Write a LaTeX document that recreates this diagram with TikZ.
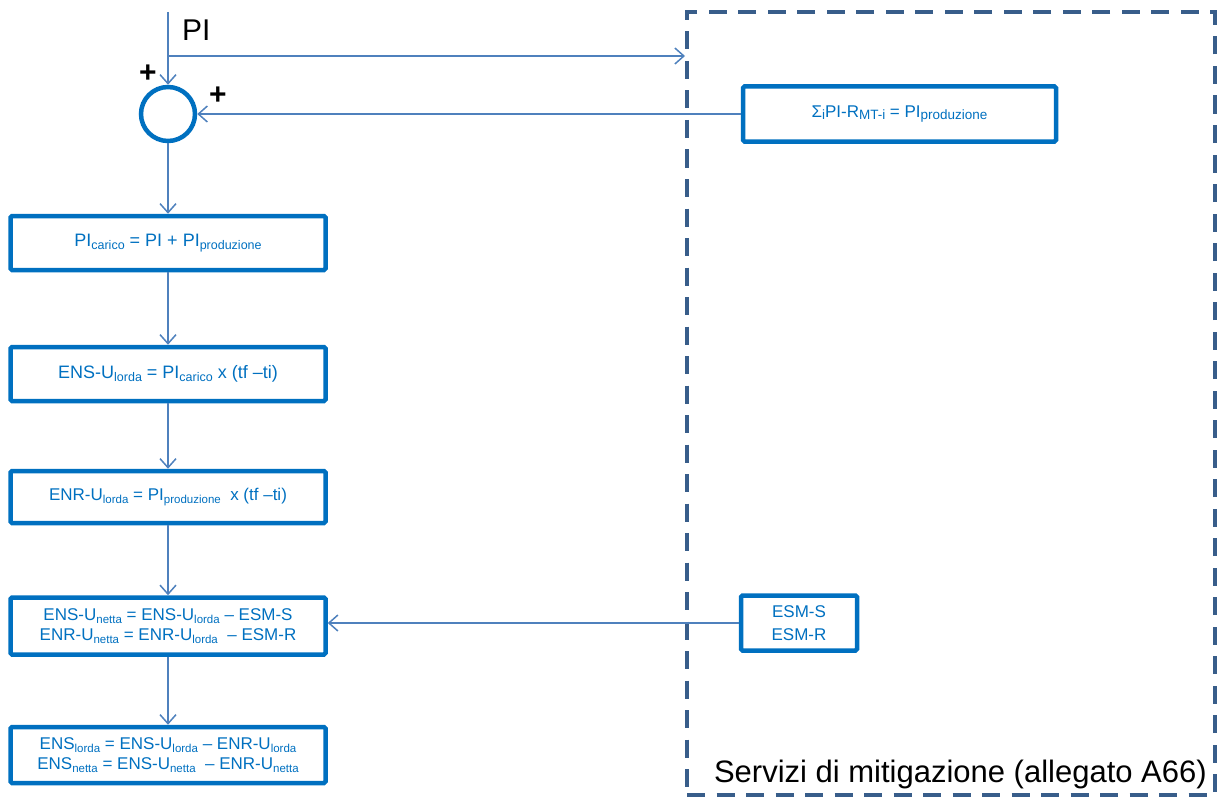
\documentclass[tikz,border=0pt]{standalone}
\usepackage{fontspec}
\setmainfont{Liberation Sans}
\usetikzlibrary{arrows.meta}
\definecolor{boxblue}{RGB}{0,112,192}
\definecolor{lineblue}{RGB}{79,129,189}
\definecolor{dashblue}{RGB}{56,93,138}
\newcommand\lo[1]{\raisebox{-2.5pt}{\fontsize{12.5}{13}\selectfont #1}}
\newcommand\los[1]{\raisebox{-2.3pt}{\fontsize{11.5}{12}\selectfont #1}}
\newcommand\lob[1]{\raisebox{-2.5pt}{\fontsize{13.5}{14}\selectfont #1}}
\begin{document}
\begin{tikzpicture}[x=1pt,y=-1pt,
  calcbox/.style={draw=boxblue, line width=4.5pt, rounded corners=1.5pt, text=boxblue,
    font=\fontsize{18}{21}\selectfont, align=center, inner sep=0pt,
    minimum width=315pt},
  smallfont/.style={font=\fontsize{17}{20}\selectfont},
  wire/.style={draw=lineblue, line width=1.5pt},
  conn/.style={wire, -{Straight Barb[length=9pt,width=16pt]}},
  plus/.style={font=\fontsize{30}{30}\selectfont\bfseries, inner sep=0pt}]
\useasboundingbox (0,0) rectangle (1217,797);

% dashed region
\node[draw=dashblue, line width=4pt, dash pattern=on 18pt off 11.5pt,
      minimum width=528pt, minimum height=783pt, inner sep=0pt] (svc) at (951,403.5) {};
\node[anchor=base east, font=\fontsize{31}{31}\selectfont, inner sep=0pt] (svclabel)
  at (1207,782) {Servizi di mitigazione (allegato A66)};

% summing junction
\node[draw=boxblue, line width=4.5pt, circle, minimum size=54pt, inner sep=0pt] (sum) at (168,114) {};
\node[plus] (plusA) at (148,74) {+};
\node[plus] (plusB) at (218,96) {+};

% input
\coordinate (top) at (168,12);
\coordinate (split) at (168,56);
\node[anchor=west, font=\fontsize{30}{30}\selectfont, inner sep=0pt] (pilabel) at (182,30) {PI};

% boxes left
\node[calcbox, minimum height=54pt] (b1) at (168,243)
  {PI\lo{carico} = PI + PI\lo{produzione}};
\node[calcbox, minimum height=54pt] (b2) at (168,374)
  {ENS-U\lo{lorda} = PI\lo{carico} x (tf –ti)};
\node[calcbox, smallfont, minimum height=52pt] (b3) at (168,497)
  {ENR-U\los{lorda} = PI\los{produzione}\ \ x (tf –ti)};
\node[calcbox, smallfont, minimum height=57pt, font=\fontsize{17}{20}\selectfont] (b4) at (168,626)
  {ENS-U\los{netta} = ENS-U\los{lorda} – ESM-S\\ENR-U\los{netta} = ENR-U\los{lorda} \ – ESM-R};
\node[calcbox, smallfont, minimum height=56pt, font=\fontsize{17}{20}\selectfont] (b5) at (168,755)
  {ENS\los{lorda} = ENS-U\los{lorda} – ENR-U\los{lorda}\\ENS\los{netta} = ENS-U\los{netta} \ – ENR-U\los{netta}};

% boxes right
\node[calcbox, smallfont, minimum width=313pt, minimum height=55pt] (sig) at (899.5,114)
  {Σ\lob{i}PI-R\lob{MT-i} = PI\lob{produzione}};
\node[calcbox, smallfont, minimum width=116pt, minimum height=55pt, font=\fontsize{17}{23}\selectfont] (esm) at (799,623)
  {ESM-S\\ESM-R};

% connectors
\draw[wire] (top) -- (split);
\draw[conn] (split) -- (sum);
\draw[conn] (split) -- (split -| svc.west);
\draw[conn] (sig) -- (sum);
\draw[conn] (sum) -- (b1);
\draw[conn] (b1) -- (b2);
\draw[conn] (b2) -- (b3);
\draw[conn] (b3) -- (b4);
\draw[conn] (b4) -- (b5);
\draw[conn] (esm.west) -- (esm.west -| b4.east);
\end{tikzpicture}
\end{document}
